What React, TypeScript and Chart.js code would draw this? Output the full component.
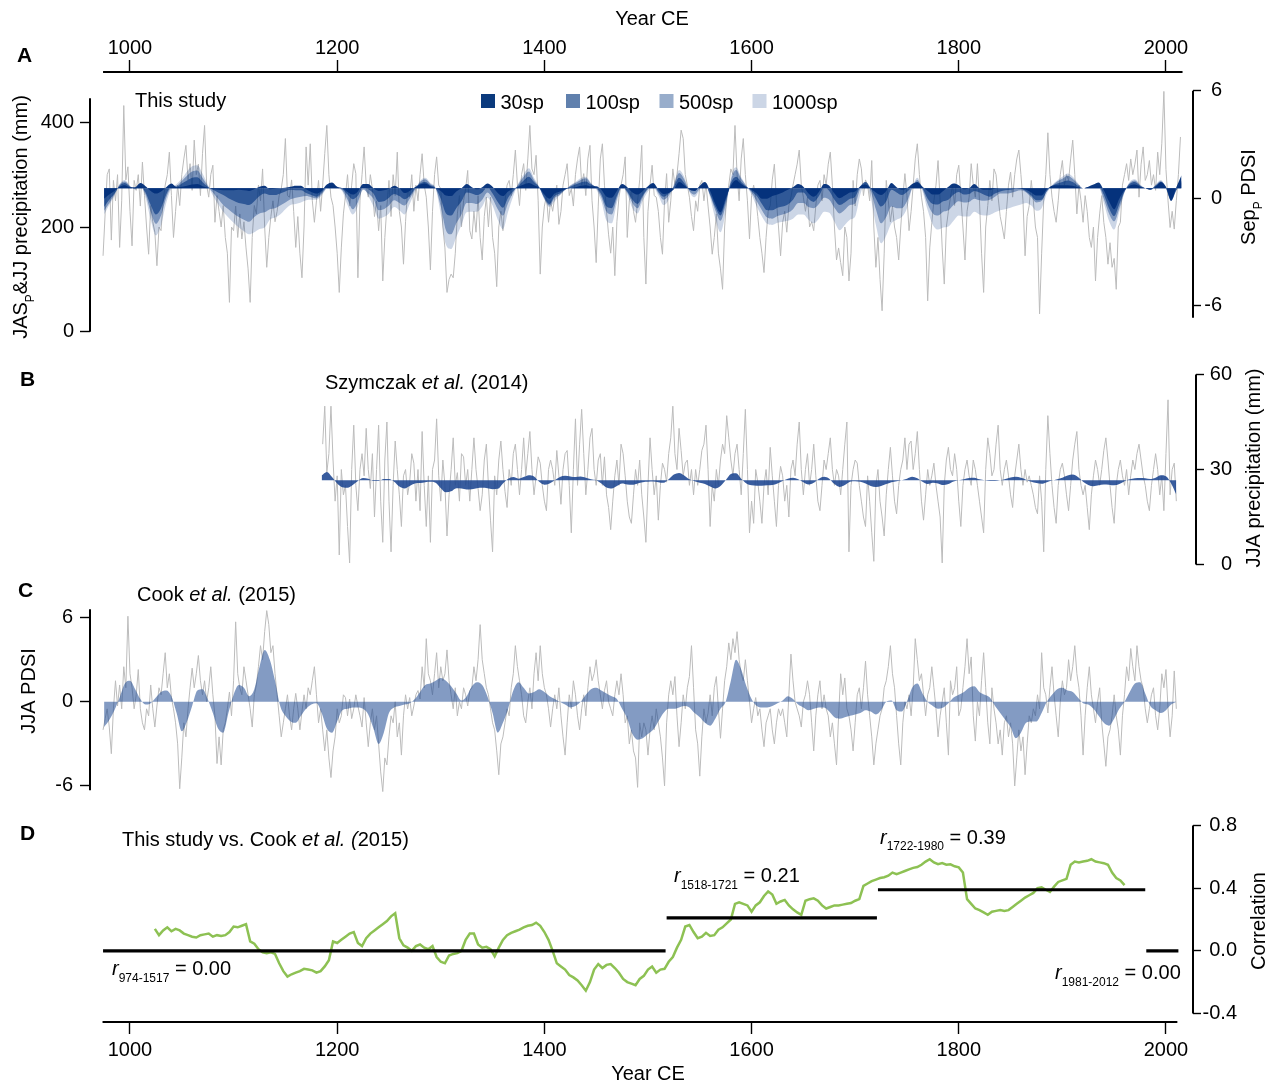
import React, { useEffect, useRef } from 'react';
import { Chart, registerables } from 'chart.js';

Chart.register(...registerables);

const FONT = '"Liberation Sans", Arial, Helvetica, sans-serif';

// ================= DATA =================
// Panel A: annual JAS_P&JJ precipitation (mm), sampled every 2 years from 974
const A_YEAR0 = 974;
const A_STEP = 2;
const A_PRECIP = [
  145,225,300,311,175,289,250,300,161,250,
  432,290,315,230,164,289,270,300,240,324,
  260,200,148,241,210,190,126,200,193,250,
  280,300,343,260,180,230,280,241,300,330,
  356,290,321,270,366,300,320,260,340,394,
  280,257,300,318,209,260,230,200,241,180,
  150,56,200,193,240,180,225,177,210,160,
  120,56,180,241,225,280,250,311,200,123,
  180,220,250,210,230,260,273,300,369,260,
  257,290,230,161,220,150,103,200,353,280,
  359,250,209,250,289,230,280,340,394,300,
  257,241,200,150,75,160,225,260,300,240,
  280,321,302,103,250,300,353,280,257,300,
  273,220,250,193,241,97,180,240,289,220,
  300,260,343,230,200,129,210,273,257,300,
  230,280,250,300,340,280,257,200,118,230,
  300,334,280,273,200,160,75,100,110,103,
  150,225,260,200,250,273,308,193,177,230,
  190,260,180,137,220,257,200,257,180,150,
  86,200,230,193,250,280,289,260,300,347,
  280,241,300,321,270,330,394,311,300,337,
  250,110,200,240,260,209,250,230,257,280,
  205,230,280,300,321,260,273,240,300,330,
  353,280,302,260,330,356,250,200,132,240,
  330,359,280,230,185,150,200,107,210,257,
  280,300,334,180,250,270,230,209,250,290,
  356,180,91,230,280,318,260,257,230,180,
  148,250,302,209,250,311,280,300,340,385,
  369,300,280,257,220,193,250,230,280,289,
  250,283,240,200,148,180,225,150,120,81,
  200,257,280,311,300,394,300,250,330,369,
  300,250,177,260,280,257,220,180,150,113,
  180,230,241,290,320,250,200,145,209,230,
  190,241,257,280,300,320,347,280,257,230,
  257,200,210,193,241,280,289,250,300,280,
  320,343,280,200,137,160,132,107,200,180,
  97,150,289,240,300,330,311,260,290,280,
  250,327,200,123,180,100,40,150,289,250,
  210,240,200,180,137,200,257,302,260,193,
  230,280,330,359,300,257,230,180,59,160,
  209,250,280,327,250,160,91,200,230,257,
  280,241,300,318,260,200,137,230,257,321,
  280,257,321,250,150,75,200,241,289,250,
  311,300,257,220,200,177,230,280,305,257,
  300,330,347,300,250,145,220,241,289,250,
  200,180,34,150,250,300,380,300,257,230,
  209,250,300,327,280,300,289,330,366,300,
  225,280,250,209,260,230,180,161,200,97,
  180,225,260,209,180,129,170,123,140,81,
  200,209,280,300,321,289,330,300,320,347,
  257,320,353,289,300,327,280,300,270,343,
  300,360,459,310,250,199,230,196,250,300,372,
];

// Panel A smoothed anomalies (mm, relative to the long-term mean), every 5 years from 975
const SP_YEAR0 = 975;
const SP_STEP = 5;
const SP30 = [
  -20,-12,-5,3,6,2,2,10,4,-5,
  -10,-6,2,9,2,3,5,7,8,4,
  1,-2,-3,-4,-4,-4,-3,-4,-5,-2,
  3,5,-2,-1,0,1,3,5,5,-2,
  -7,-10,-5,7,11,3,0,-7,-12,-6,
  8,8,0,-5,-4,-1,5,0,-9,-5,
  2,7,9,4,0,-5,-14,-15,-6,0,
  8,2,-2,2,9,3,-9,-15,-6,-1,
  3,7,10,6,1,-12,-20,-10,-6,-2,
  0,2,5,6,4,4,-3,-16,-18,-5,
  8,2,-8,-12,-5,4,10,-2,-11,-9,
  -2,12,6,-2,-5,5,12,-5,-30,-46,
  -20,5,16,8,2,-3,-10,-20,-20,-15,
  -12,-8,-3,2,8,3,-10,-16,-7,8,
  5,-10,-19,-14,-8,-6,4,7,0,-8,
  -13,-5,10,2,-3,0,8,12,3,-5,
  -12,-12,-5,3,9,6,-2,0,8,0,
  -3,-3,-1,0,0,0,0,-1,-3,-8,
  -14,-14,-2,5,6,6,6,5,2,0,
  3,7,11,-4,-25,-40,-20,-4,5,7,
  3,0,-3,3,12,3,-24,2,25,
];
const SP100 = [
  -36,-22,-10,5,10,3,-1,5,-8,-32,
  -50,-38,-12,3,3,9,15,20,21,12,
  3,-3,-8,-13,-19,-24,-28,-30,-32,-25,
  -15,-10,-13,-13,-10,-6,-3,-4,-4,-9,
  -13,-16,-8,3,7,2,-2,-12,-21,-14,
  3,-2,-10,-26,-25,-18,-11,-15,-21,-15,
  -1,9,12,6,0,-20,-48,-52,-38,-25,
  -8,-10,-13,-8,2,-10,-26,-37,-18,-5,
  5,15,22,12,2,-18,-30,-15,-10,-3,
  3,7,11,13,7,2,-12,-35,-38,-15,
  4,-6,-22,-30,-14,0,8,-6,-16,-10,
  3,20,10,-3,-5,3,7,-12,-36,-52,
  -25,10,22,12,3,-5,-15,-30,-42,-42,
  -37,-35,-31,-22,-8,-8,-20,-26,-15,1,
  -5,-22,-32,-27,-20,-16,4,12,0,-20,
  -35,-25,-3,-8,-13,-7,3,10,0,-20,
  -30,-31,-25,-22,-12,-7,-12,-11,-5,-8,
  -13,-16,-10,-6,-4,-3,-1,-1,-6,-14,
  -23,-22,-5,4,9,12,15,12,5,0,
  2,3,5,-12,-38,-53,-30,-6,8,12,
  5,0,-2,5,10,0,-24,-4,15,
];
const SP500 = [
  -43,-28,-12,7,13,4,-2,5,-12,-45,
  -68,-52,-18,2,5,14,24,32,34,20,
  5,-8,-20,-32,-40,-48,-55,-60,-64,-55,
  -48,-46,-40,-38,-33,-27,-21,-18,-16,-15,
  -17,-19,-11,1,5,2,-4,-22,-40,-26,
  -3,-10,-20,-42,-40,-33,-23,-28,-33,-20,
  -3,12,17,8,0,-35,-80,-88,-67,-50,
  -28,-28,-30,-22,-8,-20,-40,-52,-28,-8,
  8,22,32,16,2,-20,-33,-18,-13,-3,
  5,10,16,19,9,0,-17,-45,-50,-20,
  4,-8,-28,-38,-17,-2,6,-9,-22,-14,
  5,29,17,-5,-12,0,8,-14,-42,-62,
  -32,15,35,18,4,-8,-25,-42,-56,-58,
  -53,-50,-47,-40,-28,-28,-36,-38,-30,-18,
  -22,-37,-48,-41,-32,-29,0,12,-5,-40,
  -67,-55,-35,-38,-38,-25,0,16,-2,-30,
  -48,-52,-45,-42,-32,-25,-27,-26,-20,-23,
  -24,-22,-16,-10,-10,-9,-6,-4,-8,-17,
  -27,-24,-6,5,13,18,24,18,8,0,
  2,2,3,-20,-48,-63,-38,-7,10,15,
  6,0,-2,6,14,0,-20,-4,12,
];
const SP1000 = [
  -50,-32,-15,8,16,5,-2,5,-18,-60,
  -90,-70,-28,0,8,18,32,42,44,28,
  7,-14,-30,-45,-56,-66,-75,-82,-88,-84,
  -78,-75,-60,-56,-50,-40,-32,-30,-27,-23,
  -22,-22,-14,0,5,0,-6,-32,-50,-34,
  2,-15,-35,-58,-55,-48,-36,-42,-50,-30,
  -7,14,20,10,0,-50,-108,-116,-93,-70,
  -46,-45,-45,-35,-18,-33,-60,-78,-45,-15,
  10,27,38,20,3,-22,-36,-25,-13,-3,
  6,12,19,22,10,-2,-25,-62,-67,-28,
  3,-12,-38,-48,-24,-6,3,-14,-32,-22,
  8,35,22,-7,-17,-3,10,-18,-58,-84,
  -45,20,40,21,5,-12,-35,-54,-68,-70,
  -66,-64,-62,-58,-50,-50,-60,-67,-58,-45,
  -47,-64,-80,-70,-60,-54,-12,10,-18,-70,
  -105,-90,-67,-60,-55,-38,0,20,-5,-42,
  -70,-79,-75,-73,-62,-52,-54,-54,-45,-50,
  -52,-51,-46,-42,-40,-37,-34,-31,-28,-33,
  -43,-38,-10,6,15,22,28,22,10,0,
  2,2,2,-28,-62,-79,-45,-8,12,17,
  7,0,-2,7,16,2,-18,-3,10,
];
const SP_LABELS = ['30sp', '100sp', '500sp', '1000sp'];
const A_MEAN_MM = 274;

// Panel B: Szymczak et al. (2014) JJA precipitation (mm), every 2 years from 1186
const B_YEAR0 = 1186;
const B_STEP = 2;
const B_PRECIP = [
  38,50,29,35,50,33,20,28,3,30,
  22,25,12,0.5,30,44,25,17,30,35,
  28,43,30,24,35,15,30,44,20,7,
  33,45,20,4,25,39,30,22,12,28,
  30,22,26,35,32,20,30,17,42,25,
  12,28,7,30,33,46,28,20,33,25,
  9,22,30,40,25,29,20,35,34,25,
  30,20,30,40,30,24,17,22,33,38,
  25,14,4,28,22,33,39,30,23,18,
  30,25,35,38,30,22,30,40,28,35,
  42,30,22,28,34,32,25,20,17,30,
  33,30,25,36,28,19,30,35,36,25,
  10,30,46,25,38,49,35,22,30,40,
  43,30,25,33,35,25,34,22,18,11,
  20,28,33,25,38,35,28,20,15,13,
  22,30,25,33,22,15,7,25,40,30,
  22,28,14,25,32,30,26,35,40,50,
  35,30,43,36,28,32,33,25,30,22,
  30,25,30,36,38,44,30,12,25,20,
  30,25,33,38,35,47,40,33,28,35,
  38,30,22,35,49,30,10,20,13,30,
  26,20,13,25,30,22,37,28,20,12,
  25,31,28,20,25,15,30,33,28,38,
  45,30,22,30,35,25,30,38,28,20,
  17,25,33,30,35,40,30,25,30,28,
  22,30,38,45,4,25,30,33,32,25,
  20,15,12,28,20,10,1,25,30,20,
  15,9,22,30,37,28,20,16,25,30,
  33,40,30,38,39,30,35,42,30,20,
  14,22,30,25,28,32,25,20,15,0.5,
  25,33,37,30,28,35,30,20,12,25,
  30,33,28,25,33,30,25,20,15,10,
  30,40,35,28,30,38,44,30,25,30,
  33,28,22,18,28,33,38,30,25,30,
  26,28,25,22,18,16,28,20,4,30,
  47,35,25,18,13,25,30,32,28,22,
  17,25,33,38,42,30,25,22,25,18,
  11,22,28,33,30,25,30,36,40,33,
  25,18,13,25,30,33,28,25,30,22,
  28,33,30,35,38,33,28,25,20,17,
  25,30,35,30,22,28,17,35,52,22,
  30,32,20,
];
// Panel B smoothed anomaly (mm), every 5 years from 1185
const B_SP_YEAR0 = 1185;
const B_SP_STEP = 5;
const B_SP = [
  1.5,2.6,1.0,-1.0,-2.2,-2.4,-1.5,-0.2,0.7,0.5,
  -0.2,-0.2,0.4,0.4,-0.5,-2.0,-2.6,-1.8,-1.0,-0.9,
  -0.6,-0.5,-0.8,-2.5,-3.8,-3.5,-2.5,-2.6,-2.9,-2.8,
  -2.5,-2.4,-2.5,-2.8,-2.7,-1.0,0.5,1.0,0.5,1.0,
  1.6,1.2,-0.5,-1.4,-1.0,0,1.0,1.4,1.2,1.0,
  1.2,0.8,0.3,0,-1.0,-2.3,-2.6,-1.8,-1.0,-1.3,
  -1.4,-1.0,-0.6,-0.5,-0.4,-0.6,-0.8,0.3,1.8,2.3,
  1.5,0.3,-0.3,-0.8,-1.2,-2.0,-2.6,-1.8,0,2.0,
  2.2,0.5,-1.0,-1.6,-1.7,-1.7,-1.6,-1.5,-1.0,-0.2,
  0.5,0.8,0.3,-0.6,-1.3,-0.8,0.5,1.1,0.5,-1.2,
  -2.1,-1.5,-0.5,-0.3,-0.5,-1.0,-1.8,-2.1,-1.8,-1.2,
  -0.6,-0.3,0,0.5,1.1,0.6,-0.5,-1.2,-0.8,-1.0,
  -1.5,-1.2,-0.4,0,0.3,0.7,0.8,0.3,0,-0.2,
  -0.2,0,0.4,0.9,1.1,0.8,0.2,-0.5,-0.9,-1.1,
  -0.6,-0.1,0.3,0.8,1.5,1.8,1.0,-0.5,-1.5,-1.9,
  -1.6,-1.3,-1.4,-1.6,-1.2,-0.3,0.3,0.6,0.7,0.6,
  0.4,0.8,1.6,1.3,-1.0,-4.5,
];
const B_MEAN_MM = 26.6;

// Panel C: Cook et al. (2015) JJA PDSI, every 2 years from 974
const C_YEAR0 = 974;
const C_STEP = 2;
const C_PDSI = [
  -2.0,-1.2,-0.5,-1.8,-3.7,-0.5,1.5,-0.3,1.2,-0.5,
  2.5,1.0,6.1,2.0,1.0,-0.5,0.5,2.3,-0.5,-1.5,
  -2.0,-0.5,-1.0,1.2,-0.5,-1.8,-0.3,1.0,0.5,2.0,
  3.5,1.0,2.0,0.3,-0.5,-1.5,-3.0,-6.2,-4.0,-1.5,
  -2.5,-0.5,1.0,2.4,1.0,2.0,3.3,1.5,0.5,1.5,
  0,1.0,2.5,0.5,-1.0,-4.4,-2.5,-4.5,-2.0,-1.5,
  -0.5,0.7,-1.0,1.5,5.7,2.0,1.0,0.5,2.5,1.5,
  0.5,-0.5,-1.8,0.5,1.2,2.5,4.0,3.0,5.0,6.5,
  5.5,3.5,4.0,2.0,0.5,-1.0,-2.5,-1.5,-0.5,0.5,
  -1.0,-2.0,-0.5,0.6,-0.5,-2.0,-0.7,0.5,-0.5,1.0,
  0.5,1.5,2.5,0.5,-1.5,-0.5,-2.0,-3.5,-2.0,-4.0,
  -5.4,-3.5,-2.5,-0.5,-1.5,-1.0,0.5,0.3,-1.0,0.2,
  -1.2,-0.5,0.5,-0.3,-1.0,-1.8,0.3,-1.5,-3.2,-1.5,
  -0.5,-2.0,-1.0,-3.0,-5.0,-6.4,-4.0,-4.5,-2.5,-1.0,
  -1.5,0,-2.5,-1.5,-3.8,-1.0,0.5,-0.5,0.3,-1.0,
  -0.3,0.5,0.8,0.2,2.5,1.0,4.5,2.0,1.5,0.5,
  2.0,3.5,1.0,2.5,1.5,2.0,3.7,1.5,0.5,-0.5,
  1.0,-1.0,0,-0.5,1.0,0.5,-0.3,0.8,1.0,2.5,
  1.5,3.0,5.5,3.0,2.0,1.0,0.5,-0.5,-1.5,-2.0,
  -3.5,-5.2,-3.0,-2.5,-1.5,-0.5,-1.0,1.0,2.0,4.0,
  2.5,1.5,0.5,-1.0,-1.5,0,1.0,-0.5,2.0,3.5,
  1.5,4.0,2.0,1.0,0.5,-0.5,-1.8,-0.5,0.5,-0.5,
  1.0,-1.0,-2.5,-3.8,-1.5,0.5,-0.5,1.5,0.5,-1.0,
  -2.0,-0.5,0.5,-1.0,1.0,2.5,1.5,2.0,3.0,1.5,
  0.5,-0.5,0.8,1.5,0,-0.5,-1.0,0.5,1.5,0.5,
  2.0,0.5,-1.5,-1.0,-3.0,-2.0,-3.5,-4.0,-6.1,-1.5,
  -2.5,-1.5,-2.0,-3.8,-2.0,-1.0,-2.0,-0.5,-1.5,-2.5,
  -4.0,-6.0,-1.5,0.5,1.5,0.5,1.8,-1.0,-3.2,-1.5,
  0.5,-0.5,1.0,1.8,4.0,1.0,-2.0,-3.0,-5.3,-2.5,
  -0.5,-1.5,-0.8,0.5,-1.0,1.0,1.8,-0.5,-2.6,-0.5,
  1.5,2.5,4.2,3.0,4.5,3.5,5.0,3.0,2.0,1.5,
  3.0,1.5,0,-1.5,-0.5,0.3,-1.0,-0.5,-2.0,-3.2,
  -1.5,-1.0,-0.5,-2.0,-3.0,-1.5,-0.5,-1.0,-0.5,-1.5,
  -2.5,0.5,3.4,1.5,0,-0.5,-1.0,-1.8,0,0.5,
  1.5,0.5,-1.5,-3.5,-1.0,0.5,1.5,-0.5,0.5,-0.5,
  -1.0,-2.5,-1.5,-3.0,-4.5,-1.0,2.0,0.5,1.7,-0.5,
  -1.0,-2.0,-3.5,-1.5,0.5,1.0,-0.5,1.0,2.9,0.5,
  -1.0,-2.5,-4.5,-3.0,-2.0,-1.0,-0.5,1.0,1.5,2.5,
  4.0,2.0,1.0,-1.0,-3.0,-4.5,-1.5,0,-0.5,0.5,
  -1.0,1.0,4.5,3.0,1.5,2.0,0.5,-1.0,0.5,1.0,
  2.5,1.0,-0.5,-2.5,-1.0,0,1.0,-1.5,-3.8,1.5,
  0.5,1.0,2.5,-1.0,-0.5,1.0,2.5,4.5,2.0,3.2,
  -1.0,-2.8,0,-1.0,1.5,3.5,1.0,-1.5,-3.0,1.0,
  -0.5,-1.5,-3.0,-2.0,-3.8,-1.5,-1.0,-2.5,-1.5,-3.0,
  -6.0,-4.0,-2.0,-3.5,-2.5,-5.2,-3.0,-1.0,-1.5,-0.5,
  -1.0,0.5,-0.5,3.5,1.0,0.5,-0.8,1.0,2.5,0.5,
  -1.0,-2.5,0,1.5,0.5,1.0,3.0,1.5,2.5,4.0,
  2.0,1.0,-1.0,-3.8,-1.0,1.0,2.5,0.5,-0.5,-1.5,
  0,1.0,-1.5,-3.0,-4.6,-2.5,-2.0,-1.0,0.5,-1.0,
  -2.0,-3.8,-1.0,0.5,2.5,1.5,3.8,2.5,1.5,4.0,
  2.5,1.5,1.0,-0.5,-1.5,-0.5,0.5,1.0,-1.0,-2.0,
  -0.5,2.0,1.0,2.3,-0.5,-2.5,-1.0,2.2,-0.5,
];
// Panel C smoothed PDSI, every 5 years from 975
const C_SP_YEAR0 = 975;
const C_SP_STEP = 5;
const C_SP = [
  -1.8,-1.3,-0.6,0.3,1.3,1.5,0.9,0.2,-0.2,-0.1,
  0.3,0.7,0.8,0.4,-0.8,-2.1,-1.4,-0.3,0.8,0.9,
  0.2,-0.8,-1.9,-2.2,-0.8,0.5,1.2,1.0,0.4,0.9,
  2.5,3.7,3.0,1.5,-0.3,-1.0,-1.4,-1.5,-1.0,-0.5,
  -0.2,-0.1,-0.8,-1.9,-2.2,-1.4,-0.6,-0.5,-0.4,-0.4,
  -0.5,-0.9,-1.9,-3.0,-2.2,-0.8,-0.4,-0.3,-0.2,-0.1,
  0.2,0.7,1.2,1.3,1.5,1.7,1.5,1.1,0.6,0.1,
  0.4,1.1,1.4,1.2,0.4,-0.8,-2.2,-1.5,-0.5,0.8,
  1.4,1.0,0.6,0.7,0.9,0.7,0.4,0.2,0,-0.2,
  -0.4,-0.3,0,0.5,0.9,1.0,0.8,0.6,0.4,0.2,
  -0.5,-1.2,-2.3,-2.7,-2.6,-2.3,-2.0,-1.4,-0.8,-0.5,
  -0.5,-0.4,-0.3,-0.4,-0.8,-1.1,-1.5,-1.7,-1.2,-0.5,
  0,1.5,3.0,2.3,1.1,0.2,-0.3,-0.4,-0.4,-0.3,
  -0.1,0.1,0.4,0.2,-0.2,-0.4,-0.6,-0.5,-0.4,-0.4,
  -0.7,-1.1,-1.2,-1.1,-1.0,-0.9,-0.8,-0.6,-0.7,-0.9,
  -0.6,0,0.1,-0.6,-0.7,0,1.0,1.3,0.6,0,
  -0.3,-0.5,-0.4,-0.1,0.3,0.5,0.7,1.0,1.1,0.7,
  0.5,0.3,-0.3,-0.8,-1.3,-1.8,-2.6,-2.2,-1.5,-1.4,
  -1.4,-0.8,0,0.5,0.9,1.0,0.8,0.7,0.3,-0.1,
  -0.2,-0.5,-1.0,-1.5,-1.7,-1.2,-0.5,0,0.7,1.3,
  1.4,0.6,-0.3,-0.6,-0.8,-0.6,-0.2,0,
];

// Panel D: running correlation, every 4 years from 1024
const D_YEAR0 = 1024;
const D_STEP = 4;
const D_CORR = [
  0.14,0.10,0.13,0.15,0.125,0.14,0.13,0.11,0.10,0.09,
  0.085,0.10,0.105,0.11,0.09,0.10,0.095,0.10,0.12,0.155,
  0.15,0.16,0.17,0.06,0.045,0.01,-0.01,-0.015,-0.01,-0.02,
  -0.08,-0.13,-0.165,-0.15,-0.14,-0.13,-0.115,-0.12,-0.125,-0.14,
  -0.13,-0.10,-0.06,0.06,0.05,0.07,0.09,0.11,0.12,0.05,
  0.03,0.08,0.11,0.13,0.15,0.17,0.19,0.22,0.24,0.08,
  0.035,0.02,0.0,0.03,0.04,0.02,0.01,0.03,-0.04,-0.07,
  -0.08,-0.03,-0.02,-0.015,0.0,0.07,0.11,0.11,0.04,0.02,
  0.025,0.01,-0.035,0.02,0.07,0.10,0.115,0.125,0.135,0.15,
  0.16,0.165,0.18,0.16,0.12,0.07,0.0,-0.08,-0.10,-0.12,
  -0.155,-0.17,-0.19,-0.22,-0.255,-0.20,-0.12,-0.085,-0.11,-0.09,
  -0.085,-0.11,-0.14,-0.18,-0.20,-0.21,-0.22,-0.18,-0.16,-0.12,
  -0.10,-0.14,-0.12,-0.115,-0.07,-0.04,0.02,0.07,0.155,0.165,
  0.12,0.08,0.09,0.115,0.095,0.10,0.135,0.15,0.175,0.20,
  0.30,0.31,0.30,0.29,0.25,0.29,0.31,0.35,0.38,0.36,
  0.30,0.315,0.325,0.29,0.265,0.245,0.23,0.32,0.33,0.335,
  0.32,0.29,0.27,0.28,0.29,0.29,0.295,0.30,0.305,0.32,
  0.33,0.415,0.43,0.445,0.455,0.465,0.47,0.48,0.50,0.49,
  0.50,0.51,0.52,0.53,0.535,0.55,0.57,0.585,0.565,0.553,
  0.56,0.55,0.553,0.54,0.533,0.50,0.33,0.30,0.27,0.26,
  0.245,0.23,0.25,0.255,0.26,0.255,0.26,0.28,0.30,0.32,
  0.34,0.355,0.37,0.40,0.405,0.39,0.376,0.41,0.44,0.45,
  0.46,0.55,0.57,0.565,0.57,0.575,0.585,0.57,0.565,0.56,
  0.55,0.50,0.465,0.45,0.42,
];
const R_FROM = [974, 1518, 1722, 1981];
const R_TO = [1517, 1721, 1980, 2012];
const R_VAL = [0.0, 0.21, 0.39, 0.0];

// Tick values
const YEAR_TICKS = [1000, 1200, 1400, 1600, 1800, 2000];
const A_MM_TICKS = [0, 200, 400];
const A_PDSI_TICKS = [-6, 0, 6];
const B_MM_TICKS = [0, 30, 60];
const C_PDSI_TICKS = [-6, 0, 6];
const D_R_TICKS = [-0.4, 0, 0.4, 0.8];

// ================= STYLE =================
const GRAY = '#bcbcbc';
const SP_FILL = ['rgba(4,50,124,0.97)', 'rgba(0,51,128,0.62)', 'rgba(0,51,128,0.40)', 'rgba(0,51,128,0.20)'];
const SP_KEY = ['#0b3a7d', '#6080ad', '#98adcb', '#ccd6e6'];
const B_FILL = 'rgba(28,70,145,0.88)';
const C_FILL = 'rgba(30,72,145,0.55)';
const GREEN = '#8dc153';
const X_MIN = 961.4;
const X_MAX = 2026.1;

Chart.defaults.font.family = FONT;
Chart.defaults.color = '#000';

type Seg = { t: string; i?: boolean; sub?: boolean };
type Txt = { segs: Seg[]; x: number; y: number; align?: string; rot?: boolean; size?: number; bold?: boolean };
type AxisLine = { id: string; from: number; to: number };

function drawRich(ctx: CanvasRenderingContext2D, segs: Seg[], x: number, y: number, size = 20, align = 'left', rot = false, bold = false) {
  const subSize = Math.round(size * 0.62);
  const font = (s: Seg) => `${s.i ? 'italic ' : ''}${bold ? 'bold ' : ''}${s.sub ? subSize : size}px ${FONT}`;
  let w = 0;
  const ws = segs.map((s) => {
    ctx.font = font(s);
    const m = ctx.measureText(s.t).width;
    w += m;
    return m;
  });
  ctx.save();
  ctx.translate(x, y);
  if (rot) ctx.rotate(-Math.PI / 2);
  let cx = align === 'center' ? -w / 2 : align === 'right' ? -w : 0;
  ctx.textAlign = 'left';
  ctx.textBaseline = 'alphabetic';
  ctx.fillStyle = '#000';
  segs.forEach((s, k) => {
    ctx.font = font(s);
    ctx.fillText(s.t, cx, s.sub ? size * 0.34 : 0);
    cx += ws[k];
  });
  ctx.restore();
}

function makeDeco(texts: Txt[], lines: AxisLine[], legend = false) {
  return {
    id: 'deco',
    afterDraw(chart: any) {
      const ctx = chart.ctx as CanvasRenderingContext2D;
      const ca = chart.chartArea;
      ctx.save();
      ctx.strokeStyle = '#000';
      ctx.lineWidth = 2;
      for (const l of lines) {
        const s = chart.scales[l.id];
        ctx.beginPath();
        if (s.isHorizontal()) {
          const y = s.options.position === 'top' ? ca.top : ca.bottom;
          ctx.moveTo(s.getPixelForValue(l.from), y);
          ctx.lineTo(s.getPixelForValue(l.to), y);
        } else {
          const x = s.options.position === 'left' ? ca.left : ca.right;
          ctx.moveTo(x, s.getPixelForValue(l.from));
          ctx.lineTo(x, s.getPixelForValue(l.to));
        }
        ctx.stroke();
      }
      if (legend) {
        const xs = [481, 566, 659.5, 752.5];
        chart.data.datasets.forEach((ds: any, k: number) => {
          if (k >= SP_LABELS.length) return;
          ctx.fillStyle = SP_KEY[k];
          ctx.fillRect(xs[k], 94, 14, 14);
          drawRich(ctx, [{ t: ds.label }], xs[k] + 19.5, 109, 20);
        });
      }
      for (const t of texts) drawRich(ctx, t.segs, t.x, t.y, t.size ?? 20, t.align ?? 'left', !!t.rot, !!t.bold);
      ctx.restore();
    },
  };
}

const series = (start: number, step: number, vals: number[]) => vals.map((y, i) => ({ x: start + i * step, y }));
const tickFont = { family: FONT, size: 20 };

function xScale(show: boolean, position: string, height: number, tl: number, pad: number, max = X_MAX) {
  return {
    type: 'linear', min: X_MIN, max, bounds: 'data', display: show, position,
    afterFit: (s: any) => { s.height = height; },
    afterBuildTicks: (s: any) => { s.ticks = YEAR_TICKS.map((v) => ({ value: v })); },
    border: { display: false },
    grid: { drawOnChartArea: false, drawTicks: true, tickLength: tl, tickColor: '#000', tickWidth: 1.4 },
    ticks: { font: tickFont, color: '#000', padding: pad, autoSkip: false, maxRotation: 0, callback: (v: any) => String(v) },
  };
}
// Right-hand axes use crossAlign 'far': labels are right-aligned on the scale's outer edge (= its width).
function yScale(position: string, values: number[], fmt: (v: number) => string, width: number, tl: number, pad: number, min: number, max: number) {
  return {
    type: 'linear', position, min, max, bounds: 'data',
    afterFit: (s: any) => { s.width = width; },
    afterBuildTicks: (s: any) => { s.ticks = values.map((v) => ({ value: v })); },
    border: { display: false },
    grid: { drawOnChartArea: false, drawTicks: true, tickLength: tl, tickColor: '#000', tickWidth: 1.4 },
    ticks: { font: tickFont, color: '#000', padding: pad, autoSkip: false, crossAlign: position === 'right' ? 'far' : 'near', callback: (v: any) => fmt(v) },
  };
}
const hidden = (min: number, max: number) => ({ type: 'linear', display: false, min, max, bounds: 'data' });

function baseOptions(padding: any, scales: any) {
  return {
    responsive: false, maintainAspectRatio: false, animation: false, devicePixelRatio: 1, events: [],
    layout: { padding, autoPadding: false },
    plugins: { legend: { display: false }, tooltip: { enabled: false } },
    elements: { point: { radius: 0 } },
    scales,
  };
}
const grayLine = (data: any, yAxisID: string) => ({
  label: 'annual', data, yAxisID, borderColor: GRAY, borderWidth: 1, pointRadius: 0, fill: false, order: 10, tension: 0,
});
const areaSet = (label: string, data: any, yAxisID: string, color: string, order: number) => ({
  label, data, yAxisID, borderColor: 'rgba(0,0,0,0)', borderWidth: 0, pointRadius: 0,
  backgroundColor: color, fill: 'origin', cubicInterpolationMode: 'monotone', order,
});

// ---------- Panel configs ----------
function configA() {
  const yMin = -25.4, yMax = 496.1;
  const spAll = [SP30, SP100, SP500, SP1000];
  return {
    type: 'line',
    data: {
      datasets: [
        ...spAll.map((vals, k) => areaSet(SP_LABELS[k], series(SP_YEAR0, SP_STEP, vals), 'yDev', SP_FILL[k], k + 1)),
        grayLine(series(A_YEAR0, A_STEP, A_PRECIP), 'y'),
      ],
    },
    options: baseOptions({ left: 30, right: 56, top: 0, bottom: 739 }, {
      x: xScale(true, 'top', 72, 12, 0),
      y: yScale('left', A_MM_TICKS, (v) => String(v), 60, 10, 6, yMin, yMax),
      yR: yScale('right', A_PDSI_TICKS, (v) => String(v), 29, 8, 2, -8.22, 7.056),
      yDev: hidden(yMin - A_MEAN_MM, yMax - A_MEAN_MM),
    }),
    plugins: [makeDeco([
      { segs: [{ t: 'A' }], x: 17, y: 62, bold: true, size: 21 },
      { segs: [{ t: 'Year CE' }], x: 652, y: 25, align: 'center' },
      { segs: [{ t: 'This study' }], x: 135, y: 107 },
      { segs: [{ t: 'JAS' }, { t: 'P', sub: true }, { t: '&JJ precipitation (mm)' }], x: 27, y: 217, align: 'center', rot: true },
      { segs: [{ t: 'Sep' }, { t: 'P', sub: true }, { t: ' PDSI' }], x: 1255, y: 197, align: 'center', rot: true },
    ], [
      { id: 'x', from: 974, to: 2016 },
      { id: 'y', from: 0, to: 446 },
      { id: 'yR', from: -6.7, to: 6 },
    ], true)],
  };
}

function configB() {
  const yMin = -3.316, yMax = 64.58;
  return {
    type: 'line',
    data: {
      datasets: [
        areaSet('smoothed', series(B_SP_YEAR0, B_SP_STEP, B_SP), 'yDev', B_FILL, 1),
        grayLine(series(B_YEAR0, B_STEP, B_PRECIP), 'yR'),
      ],
    },
    options: baseOptions({ left: 90, right: 46, top: 360, bottom: 509 }, {
      x: xScale(false, 'bottom', 0, 0, 0, 2029.0),
      yR: yScale('right', B_MM_TICKS, (v) => String(v), 36, 8, 4, yMin, yMax),
      yDev: hidden(yMin - B_MEAN_MM, yMax - B_MEAN_MM),
    }),
    plugins: [makeDeco([
      { segs: [{ t: 'B' }], x: 20, y: 386, bold: true, size: 21 },
      { segs: [{ t: 'Szymczak ' }, { t: 'et al.', i: true }, { t: ' (2014)' }], x: 325, y: 389 },
      { segs: [{ t: 'JJA precipitation (mm)' }], x: 1260, y: 468, align: 'center', rot: true },
    ], [
      { id: 'yR', from: 0, to: 60 },
    ])],
  };
}

function configC() {
  return {
    type: 'line',
    data: {
      datasets: [
        areaSet('smoothed', series(C_SP_YEAR0, C_SP_STEP, C_SP), 'y', C_FILL, 1),
        grayLine(series(C_YEAR0, C_STEP, C_PDSI), 'y'),
      ],
    },
    options: baseOptions({ left: 30, right: 85, top: 605, bottom: 284 }, {
      x: xScale(false, 'bottom', 0, 0, 0),
      y: yScale('left', C_PDSI_TICKS, (v) => String(v), 60, 10, 7, -7.0, 6.9),
    }),
    plugins: [makeDeco([
      { segs: [{ t: 'C' }], x: 18, y: 597, bold: true, size: 21 },
      { segs: [{ t: 'Cook ' }, { t: 'et al.', i: true }, { t: ' (2015)' }], x: 137, y: 601 },
      { segs: [{ t: 'JJA PDSI' }], x: 34.5, y: 691, align: 'center', rot: true },
    ], [
      { id: 'y', from: -6.3, to: 6.6 },
    ])],
  };
}

function configD() {
  const rPos = [[112, 975], [674, 882], [880, 843.5], [1055, 979]];
  return {
    type: 'line',
    data: {
      datasets: [
        ...R_FROM.map((f, k) => ({
          label: 'r' + k, data: [{ x: f, y: R_VAL[k] }, { x: R_TO[k], y: R_VAL[k] }], yAxisID: 'yR',
          borderColor: '#000', borderWidth: 3.2, pointRadius: 0, fill: false, order: 1,
        })),
        {
          label: 'running r', data: series(D_YEAR0, D_STEP, D_CORR), yAxisID: 'yR',
          borderColor: GREEN, borderWidth: 2.5, pointRadius: 0, fill: false, order: 2, tension: 0,
        },
      ],
    },
    options: baseOptions({ left: 90, right: 41, top: 810, bottom: 0 }, {
      x: xScale(true, 'bottom', 62, 12, 4),
      yR: yScale('right', D_R_TICKS, (v) => v.toFixed(1), 44, 8, 2, -0.455, 0.8997),
    }),
    plugins: [makeDeco([
      { segs: [{ t: 'D' }], x: 20, y: 840, bold: true, size: 21 },
      { segs: [{ t: 'This study vs. Cook ' }, { t: 'et al. (', i: true }, { t: '2015)' }], x: 122, y: 846 },
      ...R_FROM.map((f, k) => ({
        segs: [{ t: 'r', i: true }, { t: `${f}-${R_TO[k]}`, sub: true }, { t: ` = ${R_VAL[k].toFixed(2)}` }],
        x: rPos[k][0], y: rPos[k][1],
      })),
      { segs: [{ t: 'Year CE' }], x: 648, y: 1080, align: 'center' },
      { segs: [{ t: 'Correlation' }], x: 1265, y: 921, align: 'center', rot: true },
    ], [
      { id: 'x', from: 973.5, to: 2011 },
      { id: 'yR', from: -0.4, to: 0.8 },
    ])],
  };
}

export default function App() {
  const r1 = useRef<HTMLCanvasElement>(null);
  const r2 = useRef<HTMLCanvasElement>(null);
  const r3 = useRef<HTMLCanvasElement>(null);
  const r4 = useRef<HTMLCanvasElement>(null);
  useEffect(() => {
    const refs = [r1, r2, r3, r4];
    const cfgs = [configA, configB, configC, configD];
    const charts = cfgs.map((c, i) => new Chart(refs[i].current as HTMLCanvasElement, c() as any));
    return () => charts.forEach((ch) => ch.destroy());
  }, []);
  const cv = { position: 'absolute' as const, left: 0, top: 0, width: 1278, height: 1084 };
  return (
    <div style={{ position: 'absolute', left: 0, top: 0, width: 1278, height: 1084, background: '#fff', overflow: 'hidden' }}>
      <canvas ref={r1} width={1278} height={1084} style={cv} />
      <canvas ref={r2} width={1278} height={1084} style={cv} />
      <canvas ref={r3} width={1278} height={1084} style={cv} />
      <canvas ref={r4} width={1278} height={1084} style={cv} />
    </div>
  );
}
